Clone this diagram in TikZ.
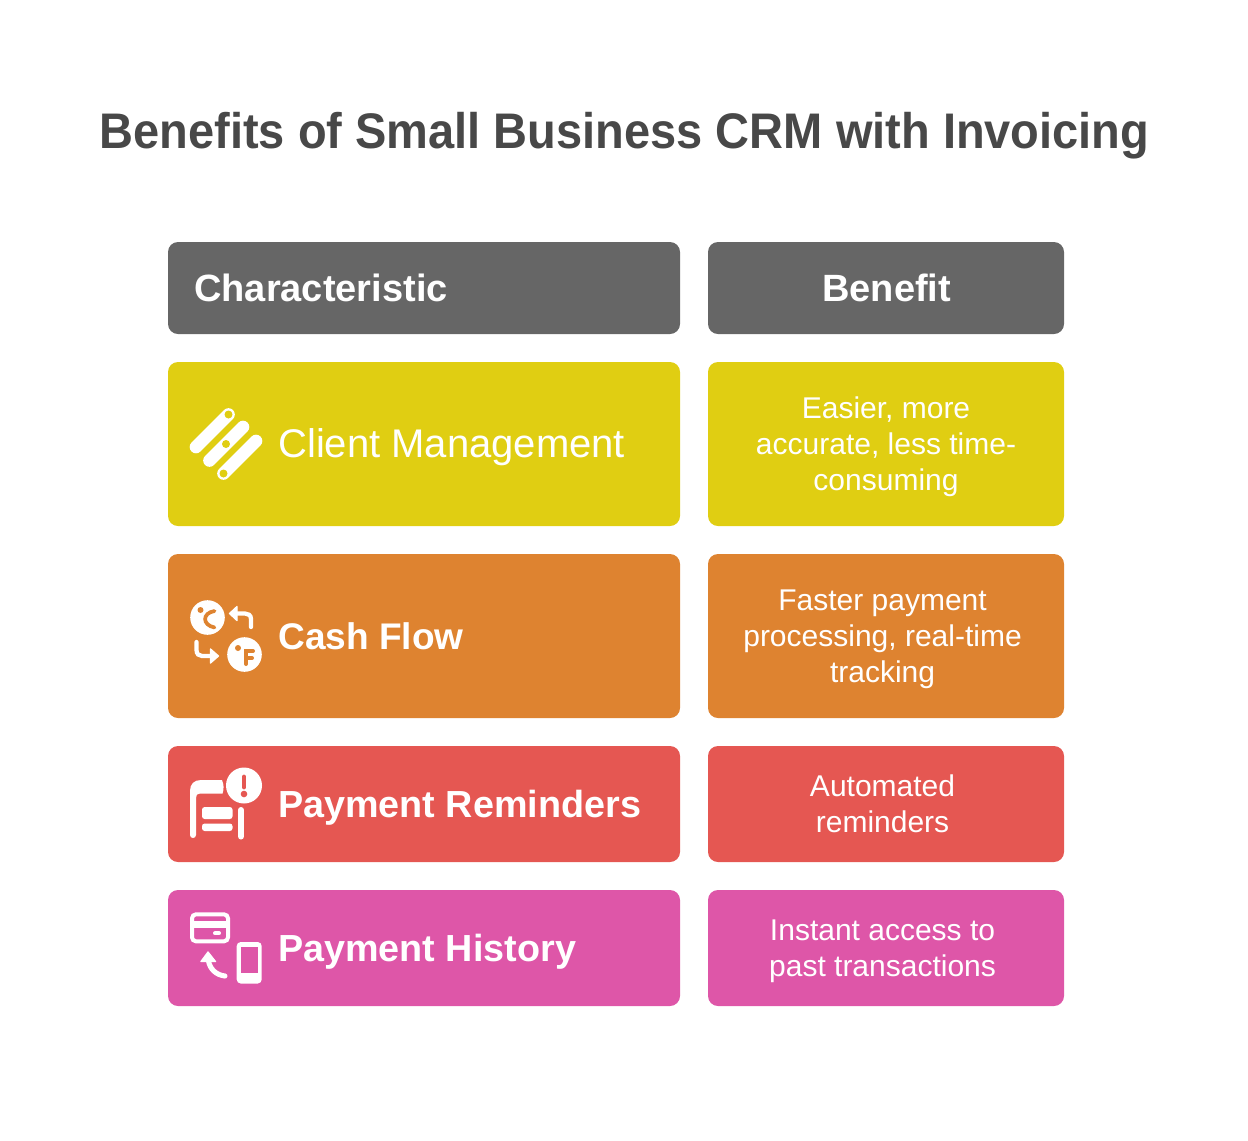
\documentclass[tikz,border=0pt]{standalone}
\usepackage{fontspec}
\setmainfont{Liberation Sans}
\newfontfamily\titlefont[FakeStretch=0.94]{Liberation Sans}
\usetikzlibrary{positioning}
\definecolor{headgray}{HTML}{666666}
\definecolor{titlegray}{HTML}{484848}
\definecolor{clientyellow}{HTML}{E0CE12}
\definecolor{cashorange}{HTML}{DE8330}
\definecolor{remindred}{HTML}{E55752}
\definecolor{historypink}{HTML}{DE56A8}
\tikzset{
	rowbox/.style={rounded corners=7.5pt,inner sep=0pt,outer sep=0pt,minimum width=#1},
	leftbox/.style={rowbox=384pt},
	rightbox/.style={rowbox=267pt},
	headtext/.style={text=white,inner sep=0pt,font=\fontsize{28.5pt}{34pt}\selectfont\bfseries},
	rowtext/.style={text=white,inner sep=0pt,anchor=base west,font=\fontsize{28.3pt}{34pt}\selectfont\bfseries},
	bentext/.style={text=white,inner sep=0pt,align=center,font=\fontsize{22.5pt}{27pt}\selectfont},
	iconfill/.style={fill=white,draw=none},
	iconline/.style={draw=white,line cap=round,line width=#1}
}
\begin{document}
\begin{tikzpicture}[x=.75pt,y=-.75pt]
	\useasboundingbox (0,0) rectangle (1248,1140);
	\node(Title)[text=titlegray,inner sep=0pt,font=\titlefont\fontsize{37.5pt}{44pt}\selectfont\bfseries] at (624.5,136) {Benefits of Small Business CRM with Invoicing};
	% header row
	\node(Char)[leftbox,fill=headgray,minimum height=69pt,anchor=north west] at (168,242) {};
	\node(Bene)[rightbox,fill=headgray,minimum height=69pt,right=21pt of Char] {};
	% rows
	\node(Client)[leftbox,fill=clientyellow,minimum height=123pt,below=21pt of Char] {};
	\node(ClientB)[rightbox,fill=clientyellow,minimum height=123pt,below=21pt of Bene] {};
	\node(Cash)[leftbox,fill=cashorange,minimum height=123pt,below=21pt of Client] {};
	\node(CashB)[rightbox,fill=cashorange,minimum height=123pt,below=21pt of ClientB] {};
	\node(Remind)[leftbox,fill=remindred,minimum height=87pt,below=21pt of Cash] {};
	\node(RemindB)[rightbox,fill=remindred,minimum height=87pt,below=21pt of CashB] {};
	\node(Hist)[leftbox,fill=historypink,minimum height=87pt,below=21pt of Remind] {};
	\node(HistB)[rightbox,fill=historypink,minimum height=87pt,below=21pt of RemindB] {};
	% texts
	\node(CharT)[headtext,anchor=west] at ([xshift=19.5pt]Char.west) {Characteristic};
	\node(BeneT)[headtext] at ([xshift=.5pt]Bene.center) {Benefit};
	\node(ClientT)[rowtext,font=\fontsize{30pt}{34pt}\selectfont] at ([xshift=82.5pt,yshift=-10.2pt]Client.west) {Client Management};
	\node(CashT)[rowtext,font=\fontsize{27.8pt}{34pt}\selectfont\bfseries] at ([xshift=82.5pt,yshift=-10pt]Cash.west) {Cash Flow};
	\node(RemindT)[rowtext] at ([xshift=82.5pt,yshift=-10pt]Remind.west) {Payment Reminders};
	\node(HistT)[rowtext] at ([xshift=82.5pt,yshift=-10pt]Hist.west) {Payment History};
	\node(ClientBT)[bentext] at ([yshift=-2pt]ClientB.center) {Easier, more\\accurate, less time-\\consuming};
	\node(CashBT)[bentext] at ([xshift=-2.6pt,yshift=-2.7pt]CashB.center) {Faster payment\\processing, real-time\\tracking};
	\node(RemindBT)[bentext] at ([xshift=-2.6pt]RemindB.center) {Automated\\reminders};
	\node(HistBT)[bentext] at ([xshift=-2.6pt,yshift=-2.7pt]HistB.center) {Instant access to\\past transactions};
	% client icon
	\draw[iconline=9.5pt] (196,447) -- (228.5,414.5);
	\draw[iconline=9.5pt] (209.5,460.5) -- (243,427);
	\draw[iconline=9.5pt] (223.5,473.5) -- (256,441);
	\fill[clientyellow] (228.5,414.5) circle (4) (226,444) circle (4) (223.5,473.5) circle (4);
	% cash icon
	\fill[iconfill] (207.5,617.5) circle (17.3) (244.5,654.5) circle (17.3);
	\fill[cashorange] (200.5,610) circle (3) (238,648) circle (3);
	\draw[cashorange,line cap=round,line width=2.8pt] (214.5,611) .. controls (202,613) and (202,625) .. (214.5,627.5);
	\draw[cashorange,line cap=round,line width=3pt] (253,651) -- (246,651) -- (246,664) (246,658) -- (252,658);
	\draw[iconline=3.2pt] (251,627) -- (251,619) .. controls (251,615) and (248,613.5) .. (245,613.5) -- (235,613.5);
	\fill[iconfill,draw=white,line width=1pt,line join=round] (229.5,613.5) -- (237,606.5) -- (237,620.5) -- cycle;
	\draw[iconline=3.2pt] (196.5,642) -- (196.5,650) .. controls (196.5,654) and (199,656) .. (202,656) -- (212,656);
	\fill[iconfill,draw=white,line width=1pt,line join=round] (218.5,656) -- (210.5,649) -- (210.5,663) -- cycle;
	% remind icon
	\fill[iconfill] (190,835) -- (190,791) .. controls (190,784) and (194,780) .. (201,780) -- (222,780) .. controls (224,785) and (224,789) .. (222.5,793.5) -- (200,793.5) .. controls (197,793.5) and (196,795) .. (196,798) -- (196,835) .. controls (196,839) and (190,839) .. (190,835) -- cycle;
	\fill[iconfill,rounded corners=2pt] (202,807) rectangle (232.5,819);
	\fill[iconfill,rounded corners=2pt] (202,823.5) rectangle (232.5,831);
	\draw[iconline=4.5pt] (241,810) -- (241,836.5);
	\fill[iconfill] (244,785.5) circle (18);
	\draw[remindred,line cap=round,line width=3.6pt] (244,777) -- (244,787);
	\fill[remindred] (244,794) circle (3.3);
	% history icon
	\draw[iconline=3pt,rounded corners=3pt] (192,914.3) rectangle (228,941.3);
	\fill[iconfill] (192,921) rectangle (228,928.3);
	\draw[iconline=3pt] (215,933.3) -- (219,933.3);
	\fill[iconfill,rounded corners=3pt] (236.7,942) rectangle (261.7,983.5);
	\fill[historypink] (241.3,946.7) rectangle (257.7,973.3);
	\draw[iconline=3.8pt] (208.5,961) .. controls (210,969) and (216,975) .. (225,976);
	\fill[iconfill,draw=white,line width=1pt,line join=round] (208,952) -- (201,961.5) -- (215.5,961.5) -- cycle;
\end{tikzpicture}
\end{document}
